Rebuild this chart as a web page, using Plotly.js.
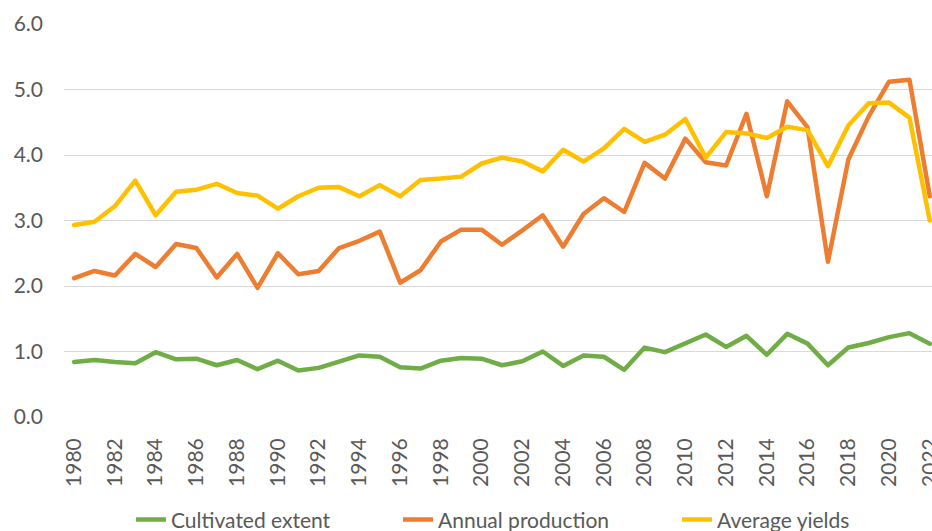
<!DOCTYPE html>
<html>
<head>
<meta charset="utf-8">
<script src="https://cdn.plot.ly/plotly-3.0.1.min.js"></script>
<style>
html, body { margin: 0; padding: 0; overflow: hidden; background: #fff; }
#chart { width: 940px; height: 531px; }
.scatterlayer .js-line { stroke-linejoin: round; stroke-linecap: round; }
</style>
</head>
<body>
<div id="chart"></div>
<script>
const years = [1980,1981,1982,1983,1984,1985,1986,1987,1988,1989,1990,1991,1992,1993,1994,1995,1996,1997,1998,1999,2000,2001,2002,2003,2004,2005,2006,2007,2008,2009,2010,2011,2012,2013,2014,2015,2016,2017,2018,2019,2020,2021,2022];

const cultivatedExtent = [0.84,0.87,0.84,0.82,0.99,0.88,0.89,0.79,0.87,0.73,0.86,0.71,0.75,0.84,0.94,0.92,0.76,0.74,0.86,0.90,0.89,0.79,0.85,1.00,0.78,0.94,0.92,0.72,1.06,0.99,1.12,1.26,1.07,1.24,0.95,1.27,1.12,0.79,1.06,1.13,1.22,1.28,1.12];

const annualProduction = [2.12,2.23,2.16,2.49,2.29,2.64,2.58,2.13,2.49,1.97,2.50,2.18,2.23,2.58,2.69,2.83,2.05,2.24,2.68,2.86,2.86,2.63,2.85,3.08,2.60,3.10,3.34,3.13,3.88,3.64,4.25,3.89,3.84,4.63,3.37,4.82,4.42,2.37,3.93,4.59,5.12,5.15,3.37];

const averageYields = [2.93,2.98,3.22,3.61,3.08,3.44,3.47,3.56,3.42,3.38,3.18,3.37,3.50,3.51,3.37,3.54,3.37,3.62,3.64,3.67,3.87,3.96,3.90,3.75,4.08,3.90,4.10,4.40,4.20,4.31,4.55,3.96,4.35,4.33,4.26,4.43,4.38,3.83,4.45,4.79,4.80,4.57,3.00];

const seriesNames = ["Cultivated extent", "Annual production", "Average yields"];
const seriesColors = ["#70AD47", "#ED7D31", "#FFC000"];
const seriesValues = [cultivatedExtent, annualProduction, averageYields];

const xTickVals = years.filter(y => y % 2 === 0);
const xTickText = xTickVals.map(String);
const yTickVals = [0, 1, 2, 3, 4, 5, 6];
const yTickText = ["0.0", "1.0", "2.0", "3.0", "4.0", "5.0", "6.0"];

const FONT = "Lato, 'Open Sans', sans-serif";
const GREY = "#595959";
const legendIds = ["legend", "legend2", "legend3"];
const legendX = [0.0765, 0.3813, 0.6998];

const traces = seriesNames.map((name, i) => ({
  type: "scatter",
  mode: "lines",
  name: name,
  legend: legendIds[i],
  x: years,
  y: seriesValues[i],
  line: { color: seriesColors[i], width: 4.5 },
  hoverinfo: "x+y+name"
}));

const layout = {
  width: 940,
  height: 531,
  margin: { l: 64, r: 0, t: 24, b: 114, pad: 0, autoexpand: false },
  paper_bgcolor: "#fff",
  plot_bgcolor: "#fff",
  font: { family: FONT, color: GREY, size: 21 },
  showlegend: true,
  xaxis: {
    range: [1979.5, 2022.5],
    tickmode: "array",
    tickvals: xTickVals,
    ticktext: xTickText,
    tickangle: -90,
    showgrid: false,
    zeroline: false,
    showline: false,
    ticks: "",
    ticklabelstandoff: 16,
    ticklabeloverflow: "allow",
    tickfont: { family: FONT, size: 21, color: GREY },
    fixedrange: true
  },
  yaxis: {
    range: [0, 6],
    tickmode: "array",
    tickvals: yTickVals,
    ticktext: yTickText,
    showgrid: true,
    gridcolor: "#D9D9D9",
    gridwidth: 1.3,
    zeroline: false,
    showline: false,
    ticks: "",
    ticklabelstandoff: 20,
    tickfont: { family: FONT, size: 21, color: GREY },
    fixedrange: true
  }
};

legendIds.forEach((id, i) => {
  layout[id] = {
    orientation: "h",
    x: legendX[i],
    xanchor: "left",
    y: -0.262,
    yanchor: "middle",
    font: { family: FONT, size: 21, color: GREY },
    bgcolor: "rgba(0,0,0,0)",
    borderwidth: 0
  };
});

Plotly.newPlot("chart", traces, layout, { displayModeBar: false, responsive: false });
</script>
</body>
</html>
